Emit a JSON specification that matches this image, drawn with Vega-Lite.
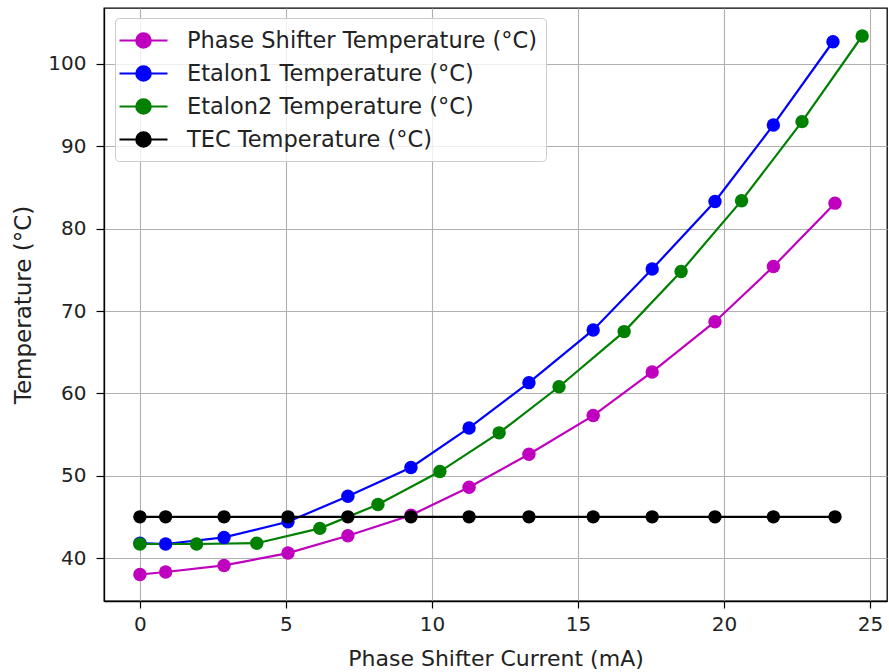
{
  "$schema": "https://vega.github.io/schema/vega-lite/v6.json",
  "width": 783,
  "height": 593,
  "autosize": {"type": "none"},
  "padding": {"left": 104, "top": 8, "right": 2, "bottom": 71},
  "background": "white",
  "config": {
    "font": "DejaVu Sans",
    "view": {"stroke": "black", "strokeWidth": 1.3},
    "axis": {
      "domainColor": "black",
      "domainWidth": 1.3,
      "tickColor": "black",
      "tickWidth": 1.2,
      "labelFont": "DejaVu Sans",
      "labelFontSize": 20,
      "labelColor": "#222",
      "titleFont": "DejaVu Sans",
      "titleFontWeight": "normal",
      "titleColor": "#222",
      "gridColor": "#b0b0b0",
      "gridWidth": 1.1,
      "gridOpacity": 1
    }
  },
  "data": {
    "values": [
      {"series": "Phase Shifter Temperature (°C)", "x": 0, "y": 38.0},
      {"series": "Phase Shifter Temperature (°C)", "x": 0.88, "y": 38.3},
      {"series": "Phase Shifter Temperature (°C)", "x": 2.88, "y": 39.1},
      {"series": "Phase Shifter Temperature (°C)", "x": 5.07, "y": 40.6},
      {"series": "Phase Shifter Temperature (°C)", "x": 7.12, "y": 42.7},
      {"series": "Phase Shifter Temperature (°C)", "x": 9.28, "y": 45.2},
      {"series": "Phase Shifter Temperature (°C)", "x": 11.27, "y": 48.6},
      {"series": "Phase Shifter Temperature (°C)", "x": 13.32, "y": 52.6},
      {"series": "Phase Shifter Temperature (°C)", "x": 15.52, "y": 57.3},
      {"series": "Phase Shifter Temperature (°C)", "x": 17.54, "y": 62.6},
      {"series": "Phase Shifter Temperature (°C)", "x": 19.69, "y": 68.7},
      {"series": "Phase Shifter Temperature (°C)", "x": 21.69, "y": 75.4},
      {"series": "Phase Shifter Temperature (°C)", "x": 23.8, "y": 83.1},
      {"series": "Etalon1 Temperature (°C)", "x": 0, "y": 41.8},
      {"series": "Etalon1 Temperature (°C)", "x": 0.88, "y": 41.7},
      {"series": "Etalon1 Temperature (°C)", "x": 2.88, "y": 42.5},
      {"series": "Etalon1 Temperature (°C)", "x": 5.07, "y": 44.4},
      {"series": "Etalon1 Temperature (°C)", "x": 7.12, "y": 47.5},
      {"series": "Etalon1 Temperature (°C)", "x": 9.28, "y": 51.0},
      {"series": "Etalon1 Temperature (°C)", "x": 11.27, "y": 55.8},
      {"series": "Etalon1 Temperature (°C)", "x": 13.32, "y": 61.3},
      {"series": "Etalon1 Temperature (°C)", "x": 15.52, "y": 67.7},
      {"series": "Etalon1 Temperature (°C)", "x": 17.54, "y": 75.1},
      {"series": "Etalon1 Temperature (°C)", "x": 19.69, "y": 83.3},
      {"series": "Etalon1 Temperature (°C)", "x": 21.69, "y": 92.6},
      {"series": "Etalon1 Temperature (°C)", "x": 23.73, "y": 102.7},
      {"series": "Etalon2 Temperature (°C)", "x": 0, "y": 41.7},
      {"series": "Etalon2 Temperature (°C)", "x": 1.94, "y": 41.7},
      {"series": "Etalon2 Temperature (°C)", "x": 4.0, "y": 41.8},
      {"series": "Etalon2 Temperature (°C)", "x": 6.16, "y": 43.6},
      {"series": "Etalon2 Temperature (°C)", "x": 8.15, "y": 46.5},
      {"series": "Etalon2 Temperature (°C)", "x": 10.27, "y": 50.5},
      {"series": "Etalon2 Temperature (°C)", "x": 12.3, "y": 55.2},
      {"series": "Etalon2 Temperature (°C)", "x": 14.35, "y": 60.8},
      {"series": "Etalon2 Temperature (°C)", "x": 16.58, "y": 67.5},
      {"series": "Etalon2 Temperature (°C)", "x": 18.53, "y": 74.8},
      {"series": "Etalon2 Temperature (°C)", "x": 20.6, "y": 83.4},
      {"series": "Etalon2 Temperature (°C)", "x": 22.67, "y": 93.0},
      {"series": "Etalon2 Temperature (°C)", "x": 24.73, "y": 103.4},
      {"series": "TEC Temperature (°C)", "x": 0, "y": 45.0},
      {"series": "TEC Temperature (°C)", "x": 0.88, "y": 45.0},
      {"series": "TEC Temperature (°C)", "x": 2.88, "y": 45.0},
      {"series": "TEC Temperature (°C)", "x": 5.07, "y": 45.0},
      {"series": "TEC Temperature (°C)", "x": 7.12, "y": 45.0},
      {"series": "TEC Temperature (°C)", "x": 9.28, "y": 45.0},
      {"series": "TEC Temperature (°C)", "x": 11.27, "y": 45.0},
      {"series": "TEC Temperature (°C)", "x": 13.32, "y": 45.0},
      {"series": "TEC Temperature (°C)", "x": 15.52, "y": 45.0},
      {"series": "TEC Temperature (°C)", "x": 17.54, "y": 45.0},
      {"series": "TEC Temperature (°C)", "x": 19.69, "y": 45.0},
      {"series": "TEC Temperature (°C)", "x": 21.69, "y": 45.0},
      {"series": "TEC Temperature (°C)", "x": 23.8, "y": 45.0}
    ]
  },
  "encoding": {
    "x": {
      "field": "x", "type": "quantitative",
      "scale": {"domain": [-1.23, 25.58], "nice": false, "zero": false},
      "axis": {"title": "Phase Shifter Current (mA)", "values": [0, 5, 10, 15, 20, 25], "tickSize": 7, "labelPadding": 6, "titleFontSize": 22, "titlePadding": 14}
    },
    "y": {
      "field": "y", "type": "quantitative",
      "scale": {"domain": [34.78, 106.8], "nice": false, "zero": false},
      "axis": {"title": "Temperature (°C)", "values": [40, 50, 60, 70, 80, 90, 100], "tickSize": 8, "labelPadding": 10, "titleFontSize": 23, "titlePadding": 12}
    },
    "color": {
      "field": "series", "type": "nominal",
      "scale": {
        "domain": ["Phase Shifter Temperature (°C)", "Etalon1 Temperature (°C)", "Etalon2 Temperature (°C)", "TEC Temperature (°C)"],
        "range": ["#bf00bf", "#0000ff", "#008000", "#000000"]
      },
      "legend": {
        "title": null,
        "orient": "none",
        "legendX": 11,
        "legendY": 10,
        "symbolType": "M-1.5,0H2.5M1.1,0A0.6,0.6,0,1,1,-0.1,0A0.6,0.6,0,1,1,1.1,0Z",
        "symbolSize": 576,
        "symbolStrokeWidth": 2.2,
        "symbolOpacity": 1,
        "labelFont": "DejaVu Sans",
        "labelFontSize": 22.5,
        "labelColor": "#222",
        "labelOffset": 36,
        "rowPadding": 7,
        "padding": 9,
        "fillColor": "rgba(255,255,255,0.8)",
        "strokeColor": "#cccccc",
        "cornerRadius": 4,
        "labelLimit": 500,
        "encode": {
          "symbols": {"update": {"fill": {"scale": "color", "field": "value"}, "fillOpacity": {"value": 1}}}
        }
      }
    }
  },
  "layer": [
    {"mark": {"type": "line", "strokeWidth": 2.2}},
    {"mark": {"type": "point", "filled": true, "size": 180, "opacity": 1}}
  ]
}
